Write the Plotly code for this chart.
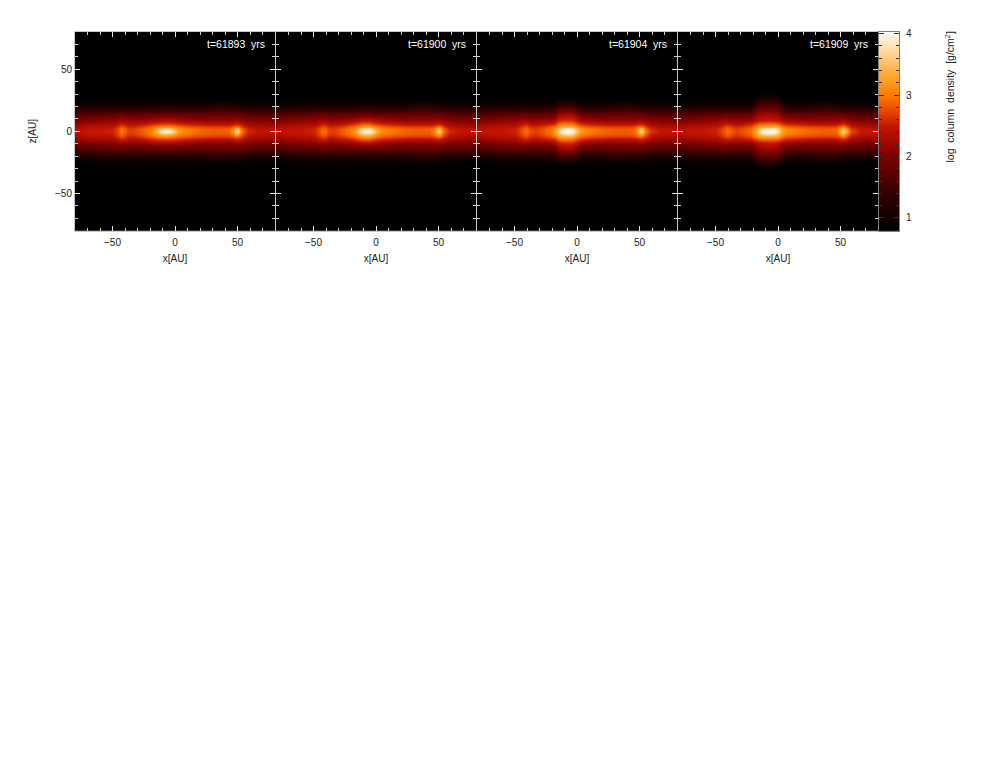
import plotly.graph_objects as go

# colonnes et lignes de la grille (AU), seulement la moitie z >= 0, l'autre est en miroir
x_grid = [-80, -70, -60, -50, -46, -43, -41, -38, -34, -28, -22, -18, -15, -12, -9, -6, -3,
          0, 3, 6, 10, 16, 24, 34, 42, 46, 48, 50, 52, 54, 58, 66, 80]
z_rows = [0, 2, 4, 6.5, 9, 12.5, 16, 19.5, 23, 27, 32]

times = ["t=61893  yrs", "t=61900  yrs", "t=61904  yrs", "t=61909  yrs"]
x_ticks = [-50, 0, 50]
bar_levels = [0.79, 4.03]
bar_ticks = [1, 2, 3, 4]

floor_row = [0.80] * 33

# halo commun aux panneaux 1 et 2
halo_10 = [1.75, 1.80, 1.85, 1.88, 1.90, 1.92, 1.91, 1.88, 1.88, 1.89, 1.91, 1.94, 1.95, 1.97, 1.98, 1.98, 1.97,
           1.95, 1.95, 1.93, 1.91, 1.90, 1.90, 1.92, 1.92, 1.92, 1.92, 1.92, 1.90, 1.88, 1.85, 1.80, 1.78]
halo_13 = [1.45, 1.50, 1.55, 1.55, 1.58, 1.60, 1.59, 1.56, 1.55, 1.57, 1.59, 1.60, 1.61, 1.62, 1.62, 1.62, 1.62,
           1.60, 1.60, 1.58, 1.56, 1.55, 1.58, 1.65, 1.65, 1.62, 1.60, 1.60, 1.58, 1.55, 1.52, 1.50, 1.48]
halo_16 = [1.15, 1.20, 1.25, 1.25, 1.28, 1.28, 1.28, 1.26, 1.25, 1.25, 1.27, 1.28, 1.28, 1.28, 1.28, 1.28, 1.28,
           1.28, 1.26, 1.25, 1.25, 1.25, 1.28, 1.38, 1.38, 1.32, 1.30, 1.30, 1.28, 1.25, 1.22, 1.20, 1.18]
halo_20 = [0.90, 0.92, 0.95, 0.95, 0.95, 0.98, 0.96, 0.95, 0.95, 0.95, 0.95, 0.95, 0.95, 0.95, 0.95, 0.95, 0.95,
           0.95, 0.95, 0.95, 0.95, 0.95, 0.98, 1.05, 1.05, 1.00, 0.98, 0.98, 0.95, 0.95, 0.92, 0.90, 0.90]

panel_1 = [
    [2.40, 2.50, 2.50, 2.58, 2.80, 3.00, 2.92, 2.72, 2.72, 2.82, 2.98, 3.15, 3.40, 3.85, 4.05, 4.05, 3.95,
     3.55, 3.25, 3.10, 3.02, 2.95, 2.88, 2.85, 2.88, 3.15, 3.75, 3.75, 3.20, 2.85, 2.60, 2.48, 2.45],
    [2.38, 2.48, 2.48, 2.55, 2.75, 2.95, 2.85, 2.68, 2.70, 2.80, 2.95, 3.08, 3.22, 3.45, 3.58, 3.58, 3.50,
     3.30, 3.12, 3.05, 3.00, 2.92, 2.85, 2.82, 2.85, 3.05, 3.35, 3.35, 3.05, 2.78, 2.55, 2.45, 2.42],
    [2.30, 2.38, 2.40, 2.46, 2.62, 2.80, 2.72, 2.55, 2.56, 2.65, 2.80, 2.90, 2.98, 3.05, 3.10, 3.10, 3.05,
     2.98, 2.90, 2.85, 2.80, 2.75, 2.70, 2.68, 2.68, 2.78, 2.88, 2.88, 2.78, 2.60, 2.42, 2.34, 2.32],
    [2.15, 2.20, 2.25, 2.30, 2.42, 2.50, 2.45, 2.36, 2.36, 2.42, 2.50, 2.56, 2.60, 2.63, 2.66, 2.66, 2.63,
     2.60, 2.56, 2.52, 2.48, 2.44, 2.40, 2.38, 2.38, 2.42, 2.46, 2.46, 2.42, 2.34, 2.25, 2.18, 2.15],
    [2.00, 2.05, 2.10, 2.13, 2.20, 2.25, 2.22, 2.16, 2.15, 2.18, 2.24, 2.28, 2.32, 2.34, 2.35, 2.35, 2.34,
     2.32, 2.30, 2.26, 2.22, 2.18, 2.15, 2.15, 2.15, 2.18, 2.20, 2.20, 2.18, 2.14, 2.08, 2.05, 2.02],
    halo_10, halo_13, halo_16, halo_20, floor_row, floor_row,
]

panel_2 = [
    [2.40, 2.48, 2.50, 2.58, 2.78, 2.92, 2.92, 2.72, 2.70, 2.82, 2.98, 3.15, 3.45, 3.90, 4.05, 4.05, 3.85,
     3.45, 3.20, 3.08, 3.02, 2.95, 2.88, 2.85, 2.86, 3.02, 3.40, 3.80, 3.35, 2.90, 2.62, 2.48, 2.45],
    [2.38, 2.46, 2.48, 2.55, 2.74, 2.88, 2.88, 2.68, 2.68, 2.80, 2.95, 3.10, 3.28, 3.55, 3.68, 3.68, 3.52,
     3.25, 3.10, 3.04, 2.98, 2.92, 2.85, 2.82, 2.84, 2.98, 3.20, 3.40, 3.15, 2.82, 2.55, 2.45, 2.42],
    [2.30, 2.38, 2.40, 2.46, 2.62, 2.74, 2.74, 2.56, 2.56, 2.65, 2.80, 2.92, 3.02, 3.15, 3.22, 3.22, 3.12,
     3.00, 2.90, 2.84, 2.80, 2.75, 2.70, 2.68, 2.68, 2.76, 2.86, 2.92, 2.84, 2.62, 2.42, 2.34, 2.32],
    [2.15, 2.20, 2.25, 2.30, 2.40, 2.48, 2.48, 2.36, 2.36, 2.42, 2.50, 2.58, 2.66, 2.74, 2.78, 2.78, 2.70,
     2.62, 2.56, 2.52, 2.48, 2.44, 2.40, 2.38, 2.38, 2.42, 2.46, 2.48, 2.44, 2.34, 2.25, 2.18, 2.15],
    [2.00, 2.05, 2.10, 2.13, 2.20, 2.24, 2.24, 2.16, 2.15, 2.18, 2.24, 2.30, 2.36, 2.42, 2.45, 2.45, 2.38,
     2.33, 2.30, 2.26, 2.22, 2.18, 2.15, 2.15, 2.15, 2.18, 2.20, 2.22, 2.18, 2.14, 2.08, 2.05, 2.02],
    halo_10, halo_13, halo_16, halo_20, floor_row, floor_row,
]

panel_3 = [
    [2.40, 2.48, 2.50, 2.56, 2.72, 2.85, 2.95, 2.80, 2.70, 2.80, 2.98, 3.20, 3.60, 4.05, 4.05, 4.05, 3.95,
     3.55, 3.25, 3.10, 3.02, 2.95, 2.88, 2.85, 2.85, 2.95, 3.20, 3.75, 3.70, 3.05, 2.68, 2.50, 2.46],
    [2.38, 2.46, 2.48, 2.54, 2.70, 2.82, 2.90, 2.76, 2.68, 2.78, 2.95, 3.15, 3.42, 3.70, 3.85, 3.85, 3.72,
     3.35, 3.12, 3.05, 2.98, 2.92, 2.85, 2.82, 2.84, 2.92, 3.08, 3.35, 3.32, 2.95, 2.60, 2.46, 2.43],
    [2.30, 2.38, 2.40, 2.46, 2.60, 2.70, 2.76, 2.62, 2.56, 2.65, 2.80, 2.95, 3.18, 3.32, 3.36, 3.36, 3.30,
     3.08, 2.92, 2.84, 2.80, 2.75, 2.70, 2.68, 2.68, 2.74, 2.82, 2.92, 2.90, 2.70, 2.46, 2.35, 2.32],
    [2.15, 2.20, 2.25, 2.30, 2.38, 2.45, 2.50, 2.40, 2.36, 2.42, 2.50, 2.60, 2.84, 2.94, 2.96, 2.96, 2.90,
     2.72, 2.56, 2.52, 2.48, 2.44, 2.40, 2.38, 2.38, 2.42, 2.45, 2.50, 2.48, 2.38, 2.26, 2.18, 2.15],
    [2.00, 2.05, 2.10, 2.13, 2.18, 2.22, 2.25, 2.18, 2.15, 2.18, 2.24, 2.32, 2.54, 2.62, 2.64, 2.64, 2.60,
     2.44, 2.30, 2.26, 2.22, 2.18, 2.15, 2.15, 2.15, 2.18, 2.20, 2.24, 2.22, 2.14, 2.08, 2.05, 2.02],
    [1.75, 1.80, 1.85, 1.88, 1.90, 1.92, 1.92, 1.88, 1.88, 1.89, 1.91, 1.98, 2.26, 2.34, 2.36, 2.36, 2.32,
     2.12, 1.95, 1.93, 1.91, 1.90, 1.90, 1.92, 1.92, 1.92, 1.92, 1.92, 1.90, 1.88, 1.85, 1.80, 1.78],
    [1.45, 1.50, 1.55, 1.55, 1.58, 1.60, 1.59, 1.56, 1.55, 1.57, 1.59, 1.66, 1.92, 2.00, 2.02, 2.02, 1.98,
     1.78, 1.60, 1.58, 1.56, 1.55, 1.58, 1.65, 1.65, 1.62, 1.60, 1.60, 1.58, 1.55, 1.52, 1.50, 1.48],
    [1.15, 1.20, 1.25, 1.25, 1.28, 1.28, 1.28, 1.26, 1.25, 1.25, 1.27, 1.32, 1.56, 1.64, 1.66, 1.66, 1.60,
     1.42, 1.26, 1.25, 1.25, 1.25, 1.28, 1.38, 1.38, 1.32, 1.30, 1.30, 1.28, 1.25, 1.22, 1.20, 1.18],
    [0.90, 0.92, 0.95, 0.95, 0.95, 0.98, 0.96, 0.95, 0.95, 0.95, 0.95, 1.00, 1.18, 1.24, 1.26, 1.26, 1.20,
     1.06, 0.95, 0.95, 0.95, 0.95, 0.98, 1.05, 1.05, 1.00, 0.98, 0.98, 0.95, 0.95, 0.92, 0.90, 0.90],
    floor_row, floor_row,
]

panel_4 = [
    [2.40, 2.48, 2.50, 2.56, 2.70, 2.82, 2.95, 2.85, 2.72, 2.80, 2.95, 3.30, 3.70, 4.05, 4.05, 4.05, 4.05,
     3.80, 3.30, 3.12, 3.05, 2.98, 2.92, 2.88, 2.86, 2.90, 3.05, 3.50, 3.85, 3.40, 2.75, 2.52, 2.46],
    [2.38, 2.46, 2.48, 2.54, 2.68, 2.78, 2.90, 2.80, 2.70, 2.78, 2.92, 3.25, 3.50, 3.72, 3.82, 3.82, 3.78,
     3.55, 3.20, 3.08, 3.02, 2.95, 2.88, 2.84, 2.84, 2.88, 3.00, 3.25, 3.45, 3.15, 2.65, 2.48, 2.43],
    [2.30, 2.38, 2.40, 2.46, 2.58, 2.68, 2.78, 2.68, 2.58, 2.66, 2.80, 3.05, 3.22, 3.30, 3.34, 3.34, 3.32,
     3.22, 3.00, 2.86, 2.82, 2.78, 2.72, 2.70, 2.68, 2.72, 2.78, 2.90, 2.98, 2.82, 2.50, 2.36, 2.32],
    [2.15, 2.20, 2.25, 2.30, 2.38, 2.44, 2.50, 2.42, 2.36, 2.42, 2.50, 2.72, 2.82, 2.86, 2.87, 2.87, 2.86,
     2.80, 2.62, 2.54, 2.50, 2.46, 2.42, 2.40, 2.38, 2.40, 2.44, 2.50, 2.55, 2.45, 2.28, 2.18, 2.15],
    [2.00, 2.05, 2.10, 2.13, 2.18, 2.22, 2.25, 2.18, 2.15, 2.18, 2.24, 2.40, 2.48, 2.52, 2.53, 2.53, 2.52,
     2.46, 2.32, 2.28, 2.24, 2.20, 2.17, 2.15, 2.15, 2.17, 2.20, 2.24, 2.26, 2.20, 2.10, 2.05, 2.02],
    [1.75, 1.80, 1.85, 1.88, 1.90, 1.92, 1.92, 1.88, 1.88, 1.89, 1.91, 2.15, 2.27, 2.31, 2.32, 2.32, 2.30,
     2.24, 2.04, 1.95, 1.91, 1.90, 1.90, 1.92, 1.92, 1.92, 1.92, 1.92, 1.90, 1.88, 1.85, 1.80, 1.78],
    [1.45, 1.50, 1.55, 1.55, 1.58, 1.60, 1.59, 1.56, 1.55, 1.57, 1.59, 1.90, 2.02, 2.06, 2.07, 2.07, 2.05,
     1.98, 1.76, 1.60, 1.56, 1.55, 1.58, 1.65, 1.65, 1.62, 1.60, 1.60, 1.58, 1.55, 1.52, 1.50, 1.48],
    [1.15, 1.20, 1.25, 1.25, 1.28, 1.28, 1.28, 1.26, 1.25, 1.25, 1.27, 1.60, 1.76, 1.80, 1.82, 1.82, 1.80,
     1.74, 1.48, 1.28, 1.25, 1.25, 1.28, 1.38, 1.38, 1.32, 1.30, 1.30, 1.28, 1.25, 1.22, 1.20, 1.18],
    [0.90, 0.92, 0.95, 0.95, 0.95, 0.98, 0.96, 0.95, 0.95, 0.95, 0.95, 1.28, 1.44, 1.50, 1.52, 1.52, 1.50,
     1.42, 1.18, 1.00, 0.95, 0.95, 0.98, 1.05, 1.05, 1.00, 0.98, 0.98, 0.95, 0.95, 0.92, 0.90, 0.90],
    [0.80, 0.80, 0.80, 0.80, 0.80, 0.80, 0.80, 0.80, 0.80, 0.80, 0.80, 0.92, 1.05, 1.10, 1.12, 1.12, 1.10,
     1.02, 0.88, 0.80, 0.80, 0.80, 0.80, 0.80, 0.80, 0.80, 0.80, 0.80, 0.80, 0.80, 0.80, 0.80, 0.80],
    floor_row,
]

panels = [panel_1, panel_2, panel_3, panel_4]

# palette type "hot" de la barre de couleur, position entre zmin et zmax
zmin, zmax = 0.8, 4.05
hot = [
    [0.00, "rgb(0,0,0)"],
    [0.20, "rgb(55,0,0)"],
    [0.37, "rgb(125,0,0)"],
    [0.52, "rgb(195,20,0)"],
    [0.62, "rgb(240,85,0)"],
    [0.68, "rgb(255,125,0)"],
    [0.78, "rgb(255,170,50)"],
    [0.88, "rgb(255,210,140)"],
    [1.00, "rgb(255,255,252)"],
]

W, H = 981, 758
font = dict(family="Liberation Sans, Arial, sans-serif", size=10, color="#222222")
top, bottom = 31, 231
lefts = [75, 276, 477, 678]

fig = go.Figure()
y_full = [-v for v in z_rows[:0:-1]] + z_rows

for i, half in enumerate(panels):
    n = "" if i == 0 else str(i + 1)
    fig.add_trace(go.Heatmap(
        x=x_grid, y=y_full, z=half[:0:-1] + half,
        xaxis="x" + n, yaxis="y" + n,
        zmin=zmin, zmax=zmax, colorscale=hot, zsmooth="best", showscale=False,
    ))
    common = dict(
        showgrid=False, zeroline=False, range=[-80, 80],
        ticks="inside", ticklen=5, tickcolor="#e8e8e8", tickwidth=1,
        showline=True, linecolor="#c8c8c8", linewidth=1, mirror="allticks",
        tickmode="array", tickvals=x_ticks,
        minor=dict(ticks="inside", ticklen=3, tickcolor="#d0d0d0", tickwidth=1, dtick=10, tick0=0),
        tickfont=font,
    )
    fig.layout["xaxis" + n] = dict(
        common, domain=[lefts[i] / W, (lefts[i] + 200) / W], anchor="y" + n,
        ticklabelstandoff=2,
        title=dict(text="x[AU]", font=font, standoff=8),
    )
    y_opts = dict(
        common, domain=[1 - bottom / H, 1 - top / H], anchor="x" + n,
        showticklabels=(i == 0),
    )
    if i == 0:
        y_opts["title"] = dict(text="z[AU]", font=font, standoff=16)
    fig.layout["yaxis" + n] = y_opts
    fig.add_annotation(
        text=times[i], xref="paper", yref="paper", showarrow=False,
        x=(lefts[i] + 192) / W, y=1 - 43 / H, xanchor="right", yanchor="middle",
        font=dict(family=font["family"], size=10.5, color="white"),
    )

# barre de couleur dans ses propres axes, pour les graduations des deux cotes
fig.add_trace(go.Heatmap(
    x=[0, 1], y=bar_levels, z=[[bar_levels[0]] * 2, [bar_levels[1]] * 2],
    xaxis="x5", yaxis="y5",
    zmin=zmin, zmax=zmax, colorscale=hot, zsmooth="best", showscale=False,
))
fig.layout["xaxis5"] = dict(
    domain=[879 / W, 899 / W], anchor="y5", range=[0, 1],
    showgrid=False, zeroline=False, showticklabels=False, ticks="",
    showline=True, linecolor="#808080", mirror=True,
)
fig.layout["yaxis5"] = dict(
    domain=[1 - bottom / H, 1 - top / H], anchor="x5", side="right",
    range=bar_levels, showgrid=False, zeroline=False,
    tickmode="array", tickvals=bar_ticks, tickfont=font, ticklabelstandoff=4,
    ticks="inside", ticklen=5, tickcolor="#303030", tickwidth=1,
    showline=True, linecolor="#808080", mirror="allticks",
    minor=dict(ticks="inside", ticklen=3, tickcolor="#303030", tickwidth=1, dtick=0.2, tick0=0),
)

fig.add_annotation(
    text="log  column  density  [g/cm<sup>2</sup>]", xref="paper", yref="paper", showarrow=False,
    x=949 / W, y=1 - 97 / H, textangle=-90, xanchor="center", yanchor="middle",
    font=dict(family=font["family"], size=10.5, color="#222222"),
)

fig.update_layout(
    width=W, height=H, margin=dict(l=0, r=0, t=0, b=0),
    paper_bgcolor="white", plot_bgcolor="black", showlegend=False, font=font,
)

# la page ne doit pas decaler le graphique
fig.write_html("out.html", config={"displayModeBar": False},
               post_script="document.body.style.margin='-3px 0 0 0';")
